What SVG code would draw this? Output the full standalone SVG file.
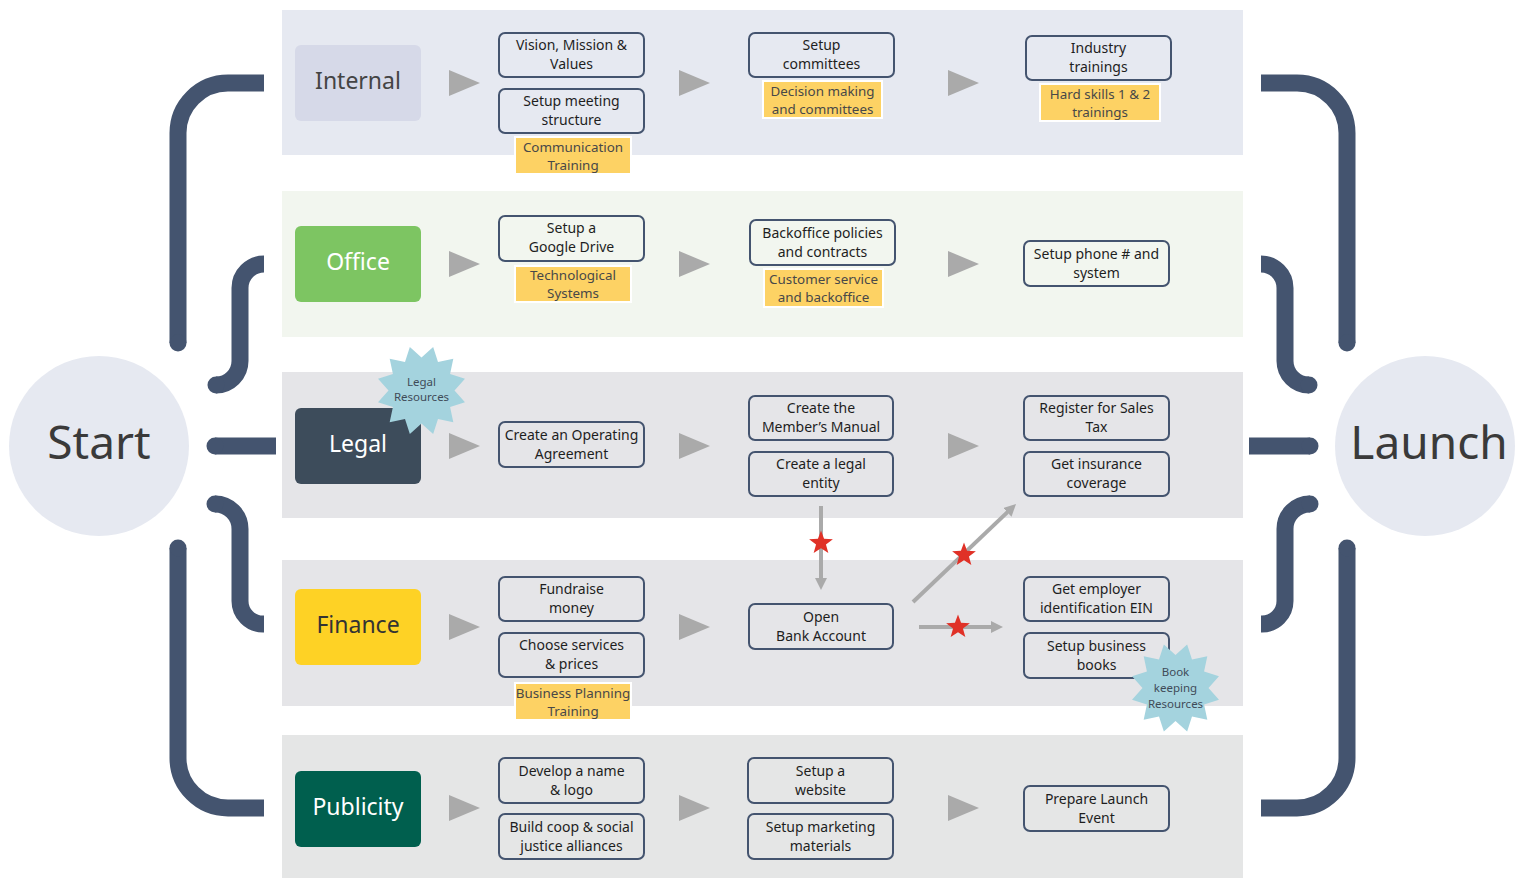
<svg xmlns="http://www.w3.org/2000/svg" xmlns:xlink="http://www.w3.org/1999/xlink" width="1525" height="878" viewBox="0 0 1525 878">
<style>
text{font-family:"Noto Sans","Open Sans","DejaVu Sans",sans-serif;}
.br{fill:none;stroke:#44546f;stroke-width:17;stroke-linecap:butt;}
.cap{fill:#44546f;}
.cat{font-size:23px;text-anchor:middle;}
.task rect{fill:none;stroke:#44546f;stroke-width:2;}
.task text{font-size:14px;fill:#1e1e1e;text-anchor:middle;}
.lbl rect{fill:#fdd264;stroke:#ffffff;stroke-width:2;}
.lbl text{font-size:13.4px;fill:#484848;text-anchor:middle;}
.tri{fill:#aaaaaa;}
.burst text{font-size:11.5px;fill:#3f4b58;text-anchor:middle;}
.conn{stroke:#aaaaaa;stroke-width:4;fill:none;marker-end:url(#ah);}
.rs{fill:#e03127;}
</style>
<defs>
<marker id="ah" viewBox="0 0 12 12" refX="2" refY="6" markerWidth="12" markerHeight="12" markerUnits="userSpaceOnUse" orient="auto">
<path d="M0,0 L12,6 L0,12 z" fill="#aaaaaa"/>
</marker>
<polygon id="star12" fill="#a4d3de" points="0,-33 11.65,-43.47 16.5,-28.58 31.82,-31.82 28.58,-16.5 43.47,-11.65 33,0 43.47,11.65 28.58,16.5 31.82,31.82 16.5,28.58 11.65,43.47 0,33 -11.65,43.47 -16.5,28.58 -31.82,31.82 -28.58,16.5 -43.47,11.65 -33,0 -43.47,-11.65 -28.58,-16.5 -31.82,-31.82 -16.5,-28.58 -11.65,-43.47"/>
<polygon id="star5" points="0,-12.5 3.06,-4.21 11.89,-3.86 4.95,1.61 7.35,10.11 0,5.2 -7.35,10.11 -4.95,1.61 -11.89,-3.86 -3.06,-4.21"/>
<g id="brackets">
<path class="br" d="M264,83 H228 A50,50 0 0 0 178,133 V343"/>
<circle class="cap" cx="178" cy="343" r="8.5"/>
<path class="br" d="M264,264 A24,24 0 0 0 240,288 V361 A24,24 0 0 1 216,385"/>
<circle class="cap" cx="216" cy="385" r="8.5"/>
<path class="br" d="M215,446 H276"/>
<circle class="cap" cx="215" cy="446" r="8.5"/>
<path class="br" d="M215,504 A25,25 0 0 1 240,529 V601 A23,23 0 0 0 263,624 H264"/>
<circle class="cap" cx="215" cy="504" r="8.5"/>
<path class="br" d="M178,548 V758 A50,50 0 0 0 228,808 H264"/>
<circle class="cap" cx="178" cy="548" r="8.5"/>
</g>
</defs>

<g id="bands">
<rect x="282" y="10" width="961" height="145" fill="#e6e9f1"/>
<rect x="282" y="191" width="961" height="146" fill="#f2f6ef"/>
<rect x="282" y="372" width="961" height="146" fill="#e5e5e8"/>
<rect x="282" y="560" width="961" height="146" fill="#e5e5e8"/>
<rect x="282" y="735" width="961" height="143" fill="#e5e6e6"/>
</g>

<g id="left-brackets"><use xlink:href="#brackets" href="#brackets"/></g>
<g id="right-brackets" transform="translate(1525,0) scale(-1,1)"><use xlink:href="#brackets" href="#brackets"/></g>

<g id="start">
<circle cx="99" cy="446" r="90" fill="#e6e9f1"/>
<text x="99" y="459" font-size="46" fill="#3a3a3a" text-anchor="middle">Start</text>
</g>
<g id="launch">
<circle cx="1425" cy="446" r="90" fill="#e6e9f1"/>
<text x="1429" y="459" font-size="46" fill="#3a3a3a" text-anchor="middle">Launch</text>
</g>

<g id="cat-internal"><rect x="295" y="45" width="126" height="76" rx="6" fill="#d6d9e8"/><text class="cat" x="358" y="89" fill="#444444">Internal</text></g>
<g id="cat-office"><rect x="295" y="226" width="126" height="76" rx="6" fill="#7dc562"/><text class="cat" x="358" y="270" fill="#ffffff">Office</text></g>
<g id="cat-legal"><rect x="295" y="408" width="126" height="76" rx="6" fill="#3d4c5b"/><text class="cat" x="358" y="452" fill="#ffffff">Legal</text></g>
<g id="cat-finance"><rect x="295" y="589" width="126" height="76" rx="6" fill="#fed225"/><text class="cat" x="358" y="633" fill="#333333">Finance</text></g>
<g id="cat-publicity"><rect x="295" y="771" width="126" height="76" rx="6" fill="#005f4e"/><text class="cat" x="358" y="815" fill="#ffffff">Publicity</text></g>

<g id="step-arrows">
<polygon class="tri" points="449,70 480,83 449,96"/>
<polygon class="tri" points="679,70 710,83 679,96"/>
<polygon class="tri" points="948,70 979,83 948,96"/>
<polygon class="tri" points="449,251 480,264 449,277"/>
<polygon class="tri" points="679,251 710,264 679,277"/>
<polygon class="tri" points="948,251 979,264 948,277"/>
<polygon class="tri" points="449,433 480,446 449,459"/>
<polygon class="tri" points="679,433 710,446 679,459"/>
<polygon class="tri" points="948,433 979,446 948,459"/>
<polygon class="tri" points="449,614 480,627 449,640"/>
<polygon class="tri" points="679,614 710,627 679,640"/>
<polygon class="tri" points="449,795 480,808 449,821"/>
<polygon class="tri" points="679,795 710,808 679,821"/>
<polygon class="tri" points="948,795 979,808 948,821"/>
</g>

<g id="t-vision" class="task"><rect x="499" y="33" width="145" height="44" rx="6"/><text x="571.5" y="50">Vision, Mission &amp;</text><text x="571.5" y="69">Values</text></g>
<g id="t-meeting" class="task"><rect x="499" y="89" width="145" height="44" rx="6"/><text x="571.5" y="106">Setup meeting</text><text x="571.5" y="125">structure</text></g>
<g id="l-comm" class="lbl"><rect x="515" y="137" width="116" height="37"/><text x="573" y="152">Communication</text><text x="573" y="170">Training</text></g>
<g id="t-committees" class="task"><rect x="749" y="33" width="145" height="44" rx="6"/><text x="821.5" y="50">Setup</text><text x="821.5" y="69">committees</text></g>
<g id="l-decision" class="lbl"><rect x="763" y="81" width="119" height="37"/><text x="822.5" y="96">Decision making</text><text x="822.5" y="114">and committees</text></g>
<g id="t-industry" class="task"><rect x="1026" y="36" width="145" height="44" rx="6"/><text x="1098.5" y="53">Industry</text><text x="1098.5" y="72">trainings</text></g>
<g id="l-hard" class="lbl"><rect x="1040" y="84" width="120" height="37"/><text x="1100" y="99">Hard skills 1 &amp; 2</text><text x="1100" y="117">trainings</text></g>

<g id="t-drive" class="task"><rect x="499" y="216" width="145" height="45" rx="6"/><text x="571.5" y="233">Setup a</text><text x="571.5" y="252">Google Drive</text></g>
<g id="l-tech" class="lbl"><rect x="515" y="266" width="116" height="36"/><text x="573" y="280">Technological</text><text x="573" y="298">Systems</text></g>
<g id="t-backoffice" class="task"><rect x="750" y="220" width="145" height="45" rx="6"/><text x="822.5" y="238">Backoffice policies</text><text x="822.5" y="257">and contracts</text></g>
<g id="l-customer" class="lbl"><rect x="764" y="269" width="119" height="38"/><text x="823.5" y="284">Customer service</text><text x="823.5" y="302">and backoffice</text></g>
<g id="t-phone" class="task"><rect x="1024" y="241" width="145" height="45" rx="6"/><text x="1096.5" y="259">Setup phone # and</text><text x="1096.5" y="278">system</text></g>

<g id="t-operating" class="task"><rect x="499" y="422" width="145" height="45" rx="6"/><text x="571.5" y="440">Create an Operating</text><text x="571.5" y="459">Agreement</text></g>
<g id="t-manual" class="task"><rect x="749" y="396" width="144" height="44" rx="6"/><text x="821" y="413">Create the</text><text x="821" y="432">Member’s Manual</text></g>
<g id="t-entity" class="task"><rect x="749" y="452" width="144" height="44" rx="6"/><text x="821" y="469">Create a legal</text><text x="821" y="488">entity</text></g>
<g id="t-salestax" class="task"><rect x="1024" y="396" width="145" height="44" rx="6"/><text x="1096.5" y="413">Register for Sales</text><text x="1096.5" y="432">Tax</text></g>
<g id="t-insurance" class="task"><rect x="1024" y="452" width="145" height="44" rx="6"/><text x="1096.5" y="469">Get insurance</text><text x="1096.5" y="488">coverage</text></g>

<g id="t-fundraise" class="task"><rect x="499" y="577" width="145" height="44" rx="6"/><text x="571.5" y="594">Fundraise</text><text x="571.5" y="613">money</text></g>
<g id="t-services" class="task"><rect x="499" y="633" width="145" height="44" rx="6"/><text x="571.5" y="650">Choose services</text><text x="571.5" y="669">&amp; prices</text></g>
<g id="l-business" class="lbl"><rect x="515" y="683" width="116" height="37"/><text x="573" y="698">Business Planning</text><text x="573" y="716">Training</text></g>
<g id="t-bank" class="task"><rect x="749" y="604" width="144" height="45" rx="6"/><text x="821" y="622">Open</text><text x="821" y="641">Bank Account</text></g>
<g id="t-ein" class="task"><rect x="1024" y="577" width="145" height="44" rx="6"/><text x="1096.5" y="594">Get employer</text><text x="1096.5" y="613">identification EIN</text></g>
<g id="t-books" class="task"><rect x="1024" y="633" width="145" height="45" rx="6"/><text x="1096.5" y="651">Setup business</text><text x="1096.5" y="670">books</text></g>

<g id="t-name" class="task"><rect x="499" y="758" width="145" height="45" rx="6"/><text x="571.5" y="776">Develop a name</text><text x="571.5" y="795">&amp; logo</text></g>
<g id="t-coop" class="task"><rect x="499" y="814" width="145" height="45" rx="6"/><text x="571.5" y="832">Build coop &amp; social</text><text x="571.5" y="851">justice alliances</text></g>
<g id="t-website" class="task"><rect x="748" y="758" width="145" height="45" rx="6"/><text x="820.5" y="776">Setup a</text><text x="820.5" y="795">website</text></g>
<g id="t-marketing" class="task"><rect x="748" y="814" width="145" height="45" rx="6"/><text x="820.5" y="832">Setup marketing</text><text x="820.5" y="851">materials</text></g>
<g id="t-event" class="task"><rect x="1024" y="786" width="145" height="45" rx="6"/><text x="1096.5" y="804">Prepare Launch</text><text x="1096.5" y="823">Event</text></g>

<g id="b-legal" class="burst"><use xlink:href="#star12" href="#star12" x="421.5" y="390.5"/><text x="421.5" y="386">Legal</text><text x="421.5" y="401">Resources</text></g>
<g id="b-books" class="burst"><use xlink:href="#star12" href="#star12" x="1175.5" y="688"/><text x="1175.5" y="676">Book</text><text x="1175.5" y="692">keeping</text><text x="1175.5" y="708">Resources</text></g>

<g id="connectors">
<line class="conn" x1="821" y1="506" x2="821" y2="580"/>
<line class="conn" x1="913" y1="602" x2="1008.8" y2="510.9"/>
<line class="conn" x1="919" y1="627" x2="993" y2="627"/>
<use class="rs" xlink:href="#star5" href="#star5" x="821" y="543"/>
<use class="rs" xlink:href="#star5" href="#star5" x="964" y="555"/>
<use class="rs" xlink:href="#star5" href="#star5" x="958" y="627"/>
</g>
</svg>
